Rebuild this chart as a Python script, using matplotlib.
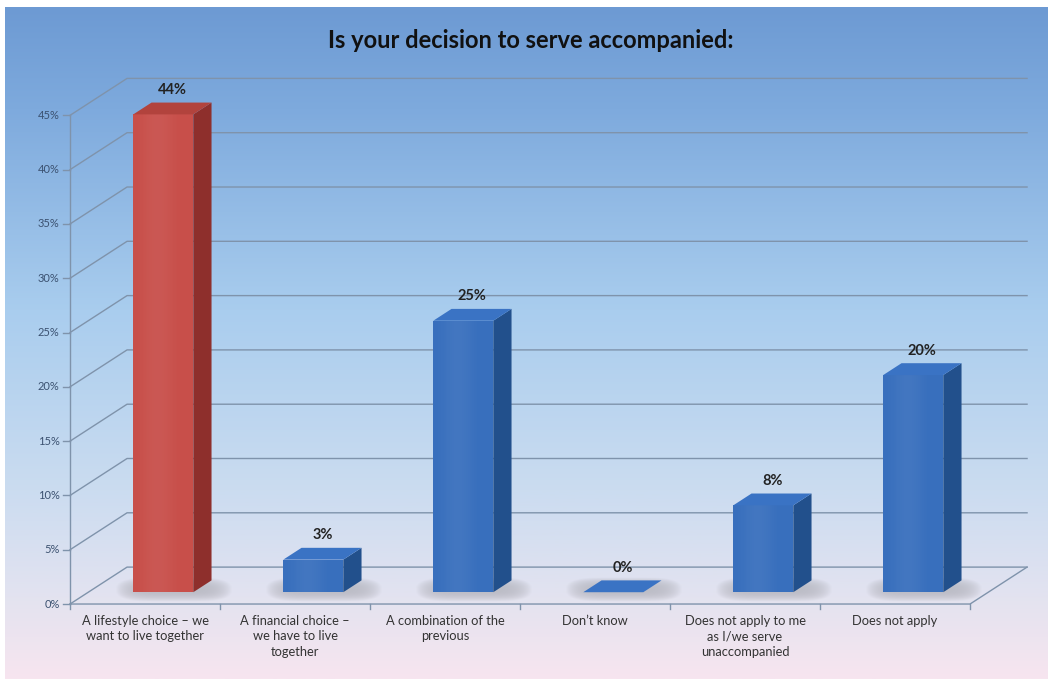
import numpy as np
import matplotlib.pyplot as plt
from matplotlib.patches import Polygon
from matplotlib.colors import LinearSegmentedColormap

plt.rcParams['font.family'] = ['Lato', 'DejaVu Sans']

categories = [
    "A lifestyle choice \u2013 we\nwant to live together",
    "A financial choice \u2013\nwe have to live\ntogether",
    "A combination of the\nprevious",
    "Don\u2019t know",
    "Does not apply to me\nas I/we serve\nunaccompanied",
    "Does not apply",
]
values = [44, 3, 25, 0, 8, 20]
value_labels = ["44%", "3%", "25%", "0%", "8%", "20%"]
yticks = np.arange(0, 50, 5)

# fake 3d: depth vector of the plot box, bars sit in the middle of it
DX, DY = 0.38, 3.4
F0, F1 = 0.32, 0.64
W = 0.40
grid_col = '#7f93ab'

fig = plt.figure(figsize=(10.53, 6.82), dpi=100)
ax = fig.add_axes([0, 0, 1, 1])
ax.axis('off')

# background gradient
bg = LinearSegmentedColormap.from_list('bg', [
    (0.0, '#6d9ad3'), (0.15, '#7eaadd'), (0.45, '#a9cdee'),
    (0.72, '#cbdcf0'), (0.88, '#e3e3f0'), (1.0, '#f7e5ef')])
grad = np.linspace(0, 1, 256).reshape(-1, 1)
ax.imshow(grad, cmap=bg, aspect='auto', extent=[5/1053, 1048/1053, 3/682, 675/682],
          transform=ax.transAxes, zorder=0, origin='upper')

# back wall gridlines and left wall diagonals
for v in yticks:
    ax.plot([-0.5, -0.5 + DX, 5.5 + DX], [v, v + DY, v + DY], color=grid_col, lw=1, zorder=1)
    ax.plot([-0.55, -0.5], [v, v], color=grid_col, lw=1, zorder=1)
    ax.text(-0.57, v, f"{v}%", ha='right', va='center', fontsize=8, color='#3b5170')
ax.plot([-0.5, -0.5], [0, 45], color=grid_col, lw=1, zorder=1)
ax.plot([-0.5, 5.5, 5.5 + DX], [0, 0, DY], color=grid_col, lw=1, zorder=1)
for k in range(7):
    ax.plot([k - 0.5, k - 0.5], [0, -0.5], color=grid_col, lw=1, zorder=1)

# soft blob used for floor shadows
gx, gy = np.meshgrid(np.linspace(-1, 1, 80), np.linspace(-1, 1, 40))
blob = np.zeros((40, 80, 4))
blob[..., :3] = 0.4
blob[..., 3] = 0.3 * np.clip(1 - (gx ** 2) ** 2.5 - (gy ** 2) ** 1.2, 0, 1)

for i, v in enumerate(values):
    red = i == 0
    front_c = '#c84f4a' if red else '#386fbd'
    side_c = '#8e2f2c' if red else '#22508c'
    top_c = '#b2433d' if red else '#3a73c4'
    x0 = i - W / 2 + F0 * DX
    x1 = x0 + W
    y0 = F0 * DY
    y1 = v + F0 * DY
    ddx, ddy = (F1 - F0) * DX, (F1 - F0) * DY

    ax.imshow(blob, aspect='auto', extent=[x0 - 0.12, x1 + ddx + 0.14, y0 - 0.9, y0 + ddy + 0.3],
              zorder=2, interpolation='bilinear')

    if v > 0:
        front = Polygon([(x0, y0), (x1, y0), (x1, y1), (x0, y1)], closed=True,
                        facecolor=front_c, edgecolor='none', zorder=3)
        ax.add_patch(front)
        shade = LinearSegmentedColormap.from_list('s', [front_c, '#ffffff'])
        band = np.array([[0.0, 0.04, 0.06, 0.04, 0.0, 0.0]])
        im = ax.imshow(band, cmap=shade, vmin=0, vmax=1, aspect='auto',
                       extent=[x0, x1, y0, y1], zorder=3, interpolation='bicubic')
        im.set_clip_path(front)
        ax.add_patch(Polygon([(x1, y0), (x1 + ddx, y0 + ddy), (x1 + ddx, y1 + ddy), (x1, y1)],
                             closed=True, facecolor=side_c, edgecolor='none', zorder=3))
    ax.add_patch(Polygon([(x0, y1), (x1, y1), (x1 + ddx, y1 + ddy), (x0 + ddx, y1 + ddy)],
                         closed=True, facecolor=top_c, edgecolor='none', zorder=3))

    cx = i + (F0 + F1) / 2 * DX
    ax.text(cx, v + F1 * DY + 0.5, value_labels[i], ha='center', va='bottom',
            fontsize=10.5, fontweight='bold', color='#222222', zorder=4)

for i, lab in enumerate(categories):
    ax.text(i, -1.0, lab, ha='center', va='top', fontsize=9.3, color='#333333',
            linespacing=1.35)

ax.set_xlim(-0.967, 6.053)
ax.set_ylim(-7.18, 55.62)

fig.text(0.504, 1 - 40 / 682, "Is your decision to serve accompanied:", ha='center',
         va='center', fontsize=17, fontweight='bold', color='#111111')

fig.savefig('out.png', dpi=100, facecolor='white')
